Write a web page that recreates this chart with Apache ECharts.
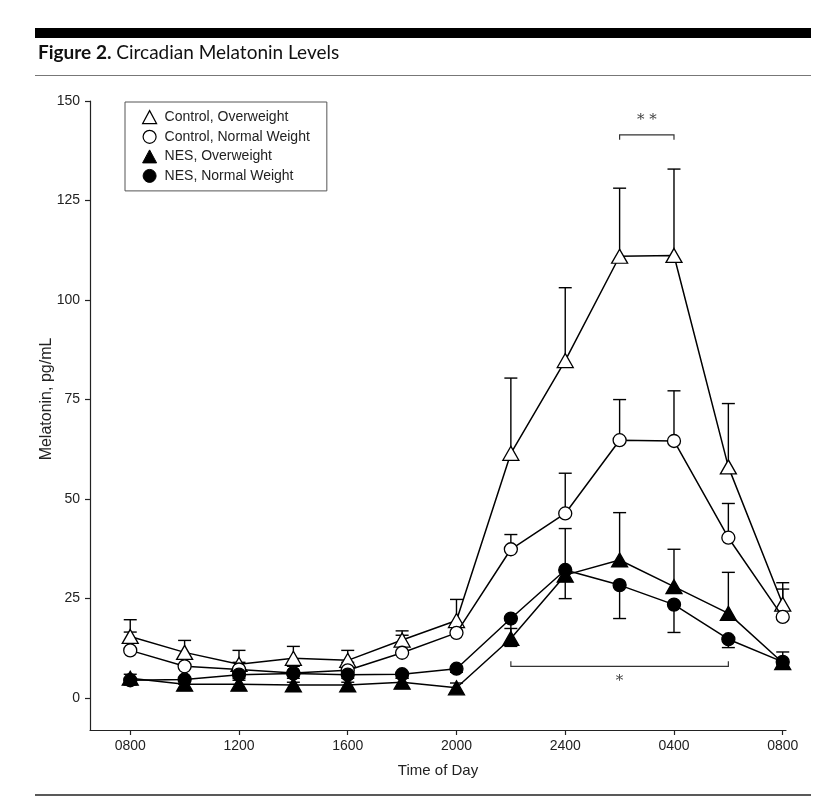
<!DOCTYPE html>
<html><head><meta charset="utf-8">
<script src="https://cdn.jsdelivr.net/npm/echarts@6/dist/echarts.min.js"></script>
<style>html,body{margin:0;padding:0;background:#fff}#c{width:825px;height:804px}</style>
</head><body><div id="c"></div>
<script>
// ---- data ----
const timeLabels = ['0800','1000','1200','1400','1600','1800','2000','2200','2400','0200','0400','0600','0800'];
const labelledTicks = [0, 2, 4, 6, 8, 10, 12];
const yTicks = [0, 25, 50, 75, 100, 125, 150];
const seriesNames = ['Control, Overweight', 'Control, Normal Weight', 'NES, Overweight', 'NES, Normal Weight'];

const controlOverweight    = [15.5, 11.5, 8.5, 10.0, 9.5, 14.6, 19.5, 61.5, 84.8, 111.0, 111.2, 58.1, 23.6];
const controlOverweightErr = [19.7, 14.5, 12.0, 13.0, 12.0, 16.9, 24.8, 80.4, 103.1, 128.1, 132.9, 74.0, 29.0];
const controlNormal        = [12.0, 8.0, 7.2, 6.3, 7.0, 11.4, 16.4, 37.4, 46.4, 64.8, 64.6, 40.3, 20.4];
const controlNormalErr     = [16.6, 10.0, 9.0, 8.0, 9.0, 15.8, 18.8, 41.1, 56.5, 75.0, 77.2, 48.9, 27.4];
const nesOverweight        = [5.0, 3.5, 3.5, 3.3, 3.3, 4.0, 2.6, 15.0, 30.9, 34.7, 28.0, 21.3, 8.9];
const nesOverweightErr     = [6.0, 4.5, 4.5, 4.0, 4.0, 5.0, 3.8, 17.5, 42.6, 46.6, 37.4, 31.6, 11.6];
const nesNormal            = [4.5, 4.7, 5.9, 6.2, 5.9, 6.0, 7.4, 20.0, 32.2, 28.4, 23.5, 14.8, 9.1];
const nesNormalErr         = [3.3, 3.5, 5.0, 5.0, 5.0, 5.0, 6.5, 13.0, 25.0, 20.0, 16.5, 12.7, 8.0];

// significance brackets
const bracketFrom  = [9, 7];
const bracketTo    = [10, 11];
const bracketLevel = [141.5, 8];
const bracketText  = ['* *', '*'];
const bracketSide  = [-1, 1]; // -1: ticks point down, text above; 1: ticks up, text below

// ---- chart ----
const chart = echarts.init(document.getElementById('c'), null, {renderer: 'canvas'});
const FONT = 'Liberation Sans';

function pts(arr) { return arr.map((v, i) => [i, v]); }
function errData(vals, ends) { return vals.map((v, i) => [i, v, ends[i]]); }

function errorSeries(name, vals, ends) {
  return {
    type: 'custom', name: name + ' err', z: 1, silent: true, clip: false,
    data: errData(vals, ends),
    encode: {x: 0, y: [1, 2]},
    renderItem: function (params, api) {
      const x = api.value(0);
      const a = api.coord([x, api.value(1)]);
      const b = api.coord([x, api.value(2)]);
      const w = 6.5;
      return {
        type: 'group',
        children: [
          {type: 'line', shape: {x1: a[0], y1: a[1], x2: b[0], y2: b[1]}, style: {stroke: '#000', lineWidth: 1.4}},
          {type: 'line', shape: {x1: b[0] - w, y1: b[1], x2: b[0] + w, y2: b[1]}, style: {stroke: '#000', lineWidth: 1.4}}
        ]
      };
    }
  };
}

function lineSeries(name, vals, symbol, filled, z) {
  return {
    type: 'line', name: name, z: z,
    data: pts(vals),
    symbol: symbol,
    symbolSize: symbol === 'triangle' ? [16, 14] : 13,
    showAllSymbol: true,
    itemStyle: {color: filled ? '#000' : '#fff', borderColor: '#000', borderWidth: 1.3, opacity: 1},
    lineStyle: {color: '#000', width: 1.5},
    emphasis: {disabled: true},
    animation: false
  };
}

const bracketData = bracketFrom.map((f, i) => [f, bracketTo[i], bracketLevel[i], bracketSide[i], i]);

const option = {
  animation: false,
  backgroundColor: '#fff',
  title: {
    text: '{b|Figure 2.} Circadian Melatonin Levels',
    left: 33, top: 38,
    textStyle: {
      fontFamily: 'Lato', fontSize: 19, fontWeight: 'normal', color: '#111',
      rich: {b: {fontFamily: 'Lato', fontSize: 19, fontWeight: 'bold', color: '#111'}}
    }
  },
  graphic: [
    {type: 'rect', shape: {x: 35, y: 28, width: 776, height: 10}, style: {fill: '#000'}},
    {type: 'line', shape: {x1: 35, y1: 75.5, x2: 811, y2: 75.5}, style: {stroke: '#777', lineWidth: 1}},
    {type: 'line', shape: {x1: 35, y1: 795, x2: 811, y2: 795}, style: {stroke: '#222', lineWidth: 1.5}}
  ],
  legend: {
    orient: 'vertical', left: 125, top: 102,
    padding: [8, 17, 8, 17],
    borderColor: '#555', borderWidth: 1,
    itemGap: 5.5, itemWidth: 14, itemHeight: 13,
    textStyle: {fontFamily: FONT, fontSize: 14, color: '#222', padding: [0, 0, 0, 3]},
    data: [
      {name: seriesNames[0], icon: 'triangle', itemStyle: {color: '#fff', borderColor: '#000', borderWidth: 1.2}},
      {name: seriesNames[1], icon: 'circle', itemStyle: {color: '#fff', borderColor: '#000', borderWidth: 1.2}},
      {name: seriesNames[2], icon: 'triangle', itemStyle: {color: '#000', borderColor: '#000', borderWidth: 1}},
      {name: seriesNames[3], icon: 'circle', itemStyle: {color: '#000', borderColor: '#000', borderWidth: 1}}
    ]
  },
  grid: {left: 90, right: 39, top: 101, bottom: 74, containLabel: false},
  xAxis: {
    type: 'value', min: -0.74, max: 12.06,
    name: 'Time of Day', nameLocation: 'middle', nameGap: 33, nameMoveOverlap: false,
    nameTextStyle: {fontFamily: FONT, fontSize: 15, color: '#222'},
    axisLine: {show: true, onZero: false, lineStyle: {color: '#222', width: 1.2}},
    axisTick: {show: true, customValues: labelledTicks, length: 5, lineStyle: {color: '#222', width: 1.2}},
    axisLabel: {customValues: labelledTicks, formatter: v => timeLabels[Math.round(v)], fontFamily: FONT, fontSize: 14, color: '#222', margin: 9},
    splitLine: {show: false}
  },
  yAxis: {
    type: 'value', min: -8, max: 150,
    name: 'Melatonin, pg/mL', nameLocation: 'middle', nameGap: 35, nameMoveOverlap: false,
    nameTextStyle: {fontFamily: FONT, fontSize: 16, color: '#222', padding: [0, 0, 0, 33]},
    axisLine: {show: true, onZero: false, lineStyle: {color: '#222', width: 1.2}},
    axisTick: {show: true, customValues: yTicks, length: 5, lineStyle: {color: '#222', width: 1.2}},
    axisLabel: {customValues: yTicks, fontFamily: FONT, fontSize: 14, color: '#222', margin: 10},
    splitLine: {show: false}
  },
  series: [
    errorSeries(seriesNames[0], controlOverweight, controlOverweightErr),
    errorSeries(seriesNames[1], controlNormal, controlNormalErr),
    errorSeries(seriesNames[2], nesOverweight, nesOverweightErr),
    errorSeries(seriesNames[3], nesNormal, nesNormalErr),
    lineSeries(seriesNames[0], controlOverweight, 'triangle', false, 3),
    lineSeries(seriesNames[1], controlNormal, 'circle', false, 4),
    lineSeries(seriesNames[3], nesNormal, 'circle', true, 5),
    lineSeries(seriesNames[2], nesOverweight, 'triangle', true, 6),
    {
      type: 'custom', name: 'brackets', z: 2, silent: true, clip: false,
      data: bracketData,
      encode: {x: [0, 1], y: 2},
      renderItem: function (params, api) {
        const p1 = api.coord([api.value(0), api.value(2)]);
        const p2 = api.coord([api.value(1), api.value(2)]);
        const s = api.value(3);
        const idx = api.value(4);
        const t = 5 * s;
        return {
          type: 'group',
          children: [
            {type: 'polyline', shape: {points: [[p1[0], p1[1] - t], p1, p2, [p2[0], p2[1] - t]]}, style: {stroke: '#333', lineWidth: 1.2, fill: null}},
            {type: 'text', style: {text: bracketText[idx], x: (p1[0] + p2[0]) / 2, y: p1[1] + 15 * s, align: 'center', verticalAlign: 'middle', font: '15px "DejaVu Serif"', fill: '#444'}}
          ]
        };
      }
    }
  ]
};
chart.setOption(option);
</script>
</body></html>
